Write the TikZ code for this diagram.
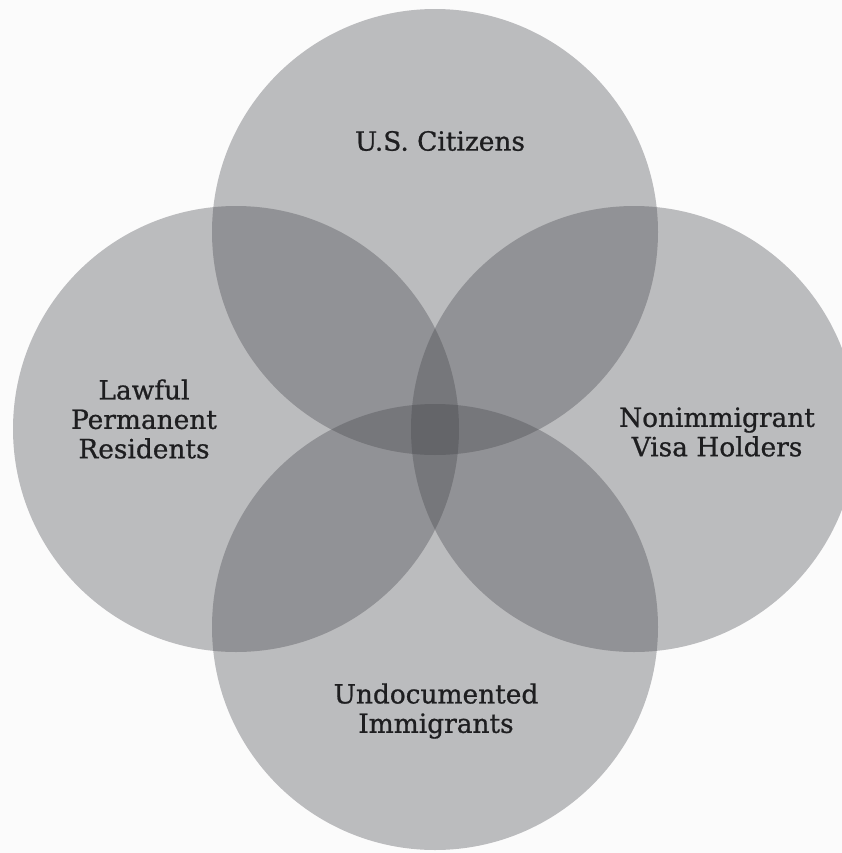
\documentclass[tikz,border=0pt]{standalone}
\usepackage{fontspec}
\setmainfont{DejaVu Serif}
\newfontfamily\lblfont[FakeBold=0.8]{DejaVu Serif}
\definecolor{bgc}{RGB}{251,251,251}
\definecolor{setc}{RGB}{66,67,73}
\definecolor{txt}{RGB}{30,30,32}
\begin{document}
\begin{tikzpicture}[x=1bp,y=-1bp,
  setdisk/.style={fill=setc,fill opacity=0.34},
  lbl/.style={text=txt,align=center,font=\lblfont\fontsize{26.5}{29.5}\selectfont,inner sep=0pt}]
\useasboundingbox (0,0) rectangle (842,853);
\fill[bgc] (0,0) rectangle (842,853);
\begin{scope}
\clip (0,0) rectangle (842,853);
\coordinate (ct) at (435,232);
\coordinate (cl) at (236,429);
\coordinate (cr) at (634,429);
\coordinate (cb) at (435,627);
\fill[setdisk] (ct) circle (223);
\fill[setdisk] (cl) circle (223);
\fill[setdisk] (cr) circle (223);
\fill[setdisk] (cb) circle (223);
\end{scope}
\node[lbl] (citizens) at (440,141) {U.S. Citizens};
\node[lbl] (lpr) at (144,419) {Lawful\\Permanent\\Residents};
\node[lbl] (visa) at (717,432) {Nonimmigrant\\Visa Holders};
\node[lbl] (undoc) at (436,711) {Undocumented\\Immigrants};
\end{tikzpicture}
\end{document}
